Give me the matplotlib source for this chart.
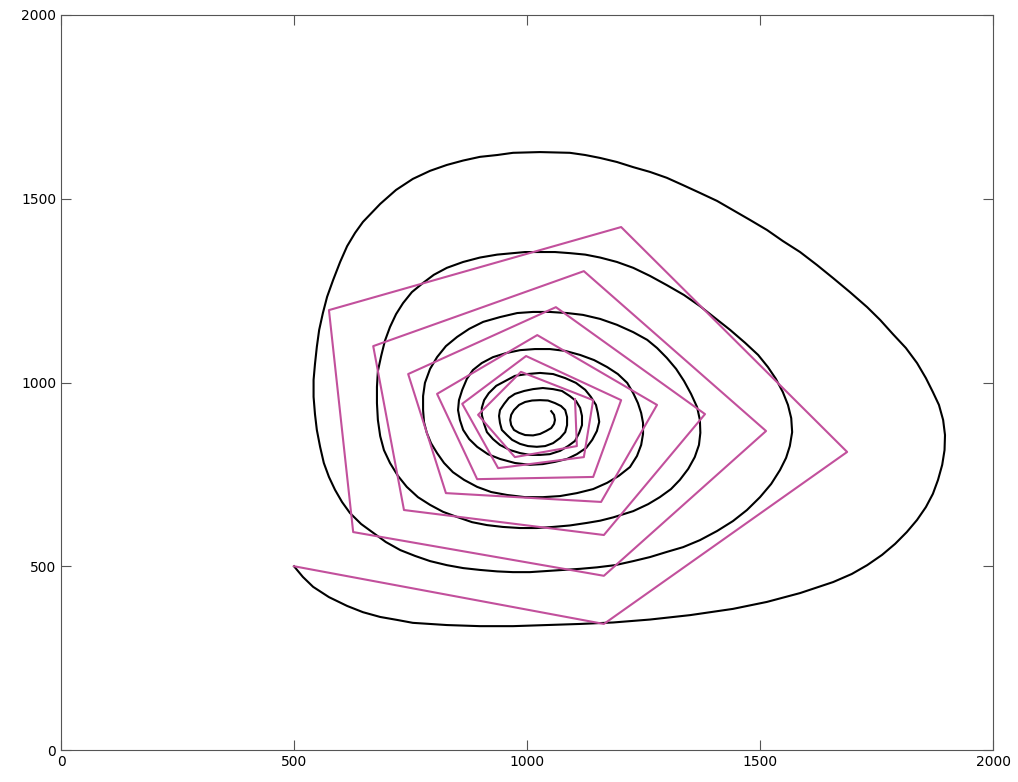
import matplotlib
matplotlib.use("Agg")
import matplotlib.pyplot as plt

# smooth trajectory (black)
curve_x = [500, 519, 541, 575, 614, 648, 685, 721, 755, 828, 899, 970, 1043, 1114, 1185, 1264,
           1350, 1442, 1515, 1586, 1657, 1697, 1730, 1762, 1790, 1815, 1837, 1856, 1871, 1882,
           1891, 1896, 1897, 1893, 1884, 1871, 1856, 1837, 1813, 1785, 1758, 1730, 1693, 1657,
           1622, 1586, 1549, 1515, 1479, 1442, 1408, 1371, 1335, 1300, 1264, 1228, 1193, 1157,
           1125, 1092, 1060, 1028, 996, 970, 936, 899, 863, 828, 792, 755, 719, 685, 648, 631,
           614, 599, 584, 571, 562, 554, 549, 545, 542, 542, 545, 549, 556, 564, 575, 588, 603,
           620, 644, 670, 697, 728, 760, 792, 828, 863, 899, 936, 970, 1006, 1043, 1077, 1114,
           1150, 1189,
           1228, 1264, 1300, 1335, 1371, 1408, 1442, 1472, 1500, 1524, 1543, 1556, 1564, 1569,
           1567, 1560, 1549, 1534, 1517, 1496, 1468, 1436, 1403, 1371, 1337, 1300, 1264, 1228,
           1193, 1157, 1125, 1092, 1060, 1028, 996, 970, 936, 899, 863, 828, 800, 777, 753, 734,
           719, 706, 695, 687, 680, 678, 678, 680, 685, 693, 706, 723, 742, 766, 792, 820, 850,
           882, 914, 948, 985, 1021, 1056, 1092, 1129, 1157, 1185,
           1228, 1260, 1285, 1309, 1328, 1346, 1360, 1369, 1372, 1371, 1365, 1352, 1337, 1320,
           1300, 1279, 1258, 1228, 1193, 1157, 1120, 1086, 1049, 1013, 979, 942, 906, 876, 850,
           826, 807, 792, 781, 777, 777, 779, 785, 794, 807, 822, 841, 865, 893, 923, 957, 996,
           1034, 1071, 1107, 1142, 1172, 1197, 1221, 1236, 1245, 1249, 1249, 1245, 1238, 1228,
           1215, 1195, 1172, 1144, 1114, 1082, 1049, 1017, 985, 955, 927, 903, 884, 871, 861,
           854, 852, 856, 863, 876, 893, 916, 942, 974, 1006, 1034, 1060, 1086, 1107, 1127, 1140,
           1150, 1155, 1152, 1148, 1137, 1125, 1105, 1082, 1056, 1028, 1000, 974, 953, 934, 918,
           908, 903, 903, 908, 914, 927, 942, 964, 985, 1006, 1028, 1049, 1071, 1088, 1103, 1112,
           1118, 1118, 1114, 1105, 1092, 1075, 1056, 1034, 1013, 994, 974, 961, 951, 942, 940,
           942, 946, 957, 968, 985, 1002, 1021, 1039, 1056, 1071, 1082, 1086, 1086, 1082, 1073,
           1060, 1045, 1028, 1011, 996, 983, 972, 966, 964, 966, 972, 983, 996, 1013, 1028, 1041,
           1052, 1058, 1060, 1058, 1052]
curve_y = [500, 471, 444, 416, 392, 375, 362, 354, 346, 340, 337, 337, 340, 343, 347, 355,
           367, 384, 403, 427, 457, 479, 503, 531, 561, 593, 626, 661, 697, 735,
           776, 816, 857, 898, 939, 974, 1012, 1053, 1094, 1132, 1170, 1205, 1246, 1284,
           1320, 1355, 1385, 1415, 1442, 1469, 1494, 1516, 1537, 1557, 1573, 1586, 1600, 1611,
           1619, 1625, 1626, 1627, 1626, 1625, 1619, 1614, 1604, 1592, 1576, 1554, 1524, 1486, 1437, 1407,
           1371, 1328, 1279, 1233, 1189, 1143, 1097, 1050, 1007, 961, 914, 871, 825, 781, 743, 708, 675,
           645, 615, 591, 566, 544, 528, 514, 503, 495, 490, 486, 484, 484, 487, 490, 493,
           497, 503,
           514, 525, 539, 552, 571, 596, 623, 653, 688, 724, 762, 795, 827, 865,
           903, 939, 974, 1010, 1042, 1075, 1108, 1143, 1176, 1208, 1238, 1265, 1290, 1312,
           1328, 1340, 1348, 1352, 1355, 1355, 1355, 1352, 1348, 1340, 1328, 1312, 1293, 1271, 1246, 1216,
           1186, 1151, 1113, 1072, 1031, 988, 944, 898, 854, 816, 781, 746, 716, 688, 667, 648, 634,
           620, 612, 607, 604, 604, 607, 611, 618, 624, 633,
           650, 669, 688, 710, 735, 765, 797, 830, 863, 898, 933, 969, 1004, 1037,
           1067, 1094, 1116, 1137, 1157, 1173, 1184, 1189, 1192, 1192, 1189, 1178, 1165, 1146, 1124,
           1099, 1069, 1037, 999, 963, 925, 892, 863, 835, 808, 781, 756, 735, 716, 702, 694, 688,
           688, 691, 699, 710, 727, 746, 770, 800, 830, 860, 890, 917, 944, 971,
           999, 1023, 1042, 1061, 1075, 1086, 1091, 1091, 1088, 1080, 1069, 1053, 1034, 1010, 980,
           952, 925, 898, 871, 846, 825, 805, 792, 781, 776, 778, 784, 792, 805, 822, 844,
           868, 893, 917, 939, 961, 980, 999, 1012, 1023, 1026, 1023, 1018, 1004, 991, 971,
           952, 931, 912, 887, 865, 846, 830, 816, 808, 803, 803, 805, 814, 827, 841, 863,
           884, 909, 931, 950, 963, 977, 982, 985, 982, 977, 969, 958, 942, 925, 909,
           890, 871, 857, 844, 833, 827, 825, 827, 835, 849, 865, 884, 906, 925, 936,
           944, 951, 952, 951, 947, 939, 925, 912, 898, 884, 871, 863, 857, 856, 860, 868,
           876, 887, 898, 912, 922]

# stepped solution (magenta), polygon vertices
step_x = [500, 1165, 1687, 1202, 575, 627, 1165, 1513, 1122, 670, 736, 1165, 1382, 1062, 745, 826,
          1159, 1279, 1022, 807, 893, 1142, 1202, 998, 861, 938, 1122, 1142, 987, 895, 974, 1107, 1103]
step_y = [500, 343, 811, 1423, 1197, 593, 474, 868, 1303, 1099, 653, 585, 914, 1205, 1023, 699,
          675, 939, 1129, 969, 737, 743, 952, 1072, 942, 767, 797, 952, 1029, 912, 797, 827, 955]

ticks = [0, 500, 1000, 1500, 2000]

fig = plt.figure(figsize=(10.18, 7.82), dpi=100)
ax = fig.add_axes([61 / 1018, 1 - 750 / 782, 932 / 1018, 735 / 782])

ax.plot(curve_x, curve_y, color="black", linewidth=1.5, solid_joinstyle="round")
ax.plot(step_x, step_y, color="#c2509c", linewidth=1.5)

ax.set_xlim(0, 2000)
ax.set_ylim(0, 2000)
ax.set_xticks(ticks)
ax.set_yticks(ticks)
ax.tick_params(direction="in", length=7, width=0.8, top=True, right=True,
               labelsize=10, colors="#555555", labelcolor="black")
for s in ax.spines.values():
    s.set_color("#555555")
    s.set_linewidth(0.8)

fig.savefig("out.png", dpi=100)
